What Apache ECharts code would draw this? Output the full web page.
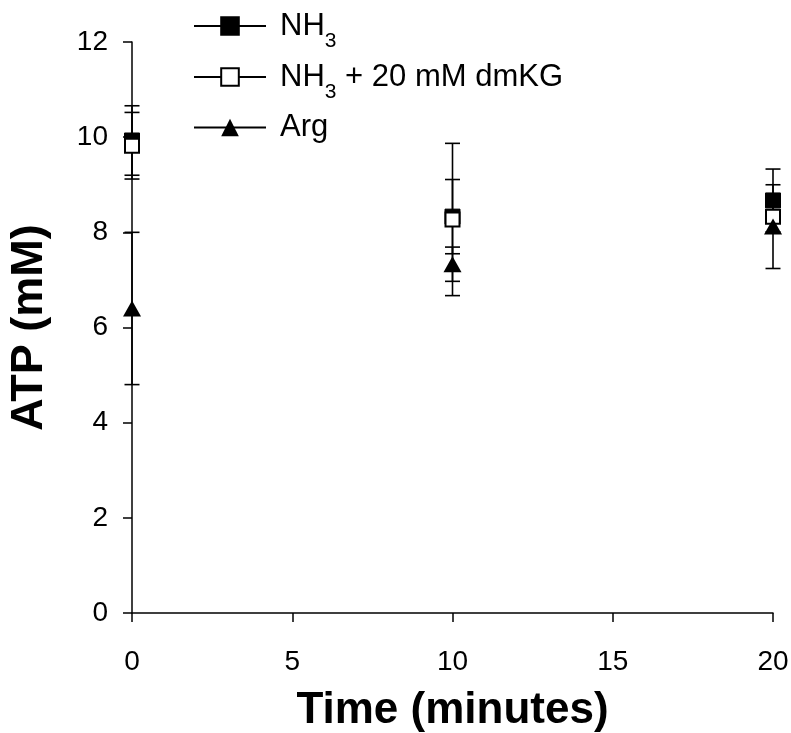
<!DOCTYPE html>
<html>
<head>
<meta charset="utf-8">
<script src="https://cdn.jsdelivr.net/npm/echarts@6/dist/echarts.min.js"></script>
<style>html,body{margin:0;padding:0;background:#fff}#c{width:791px;height:733px}</style>
</head>
<body>
<div id="c"></div>
<script>
// Data
var times = [0, 10, 20];
var nh3 = [9.93, 8.33, 8.67];
var nh3Err = [0.73, 0.78, 0.66];
var dmkg = [9.82, 8.27, 8.33];
var dmkgErr = [0.70, 1.60, 0.10];
var arg = [6.40, 7.33, 8.12];
var argErr = [1.60, 0.36, 0.88];
var xTicks = [0, 5, 10, 15, 20];
var yTicks = [0, 2, 4, 6, 8, 10, 12];

var FONT = 'Liberation Sans, Arial, sans-serif';
function pts(v) { return times.map(function (t, i) { return [t, v[i]]; }); }
function errData(v, e) { return times.map(function (t, i) { return [t, v[i], e[i]]; }); }

function errSeries(name, v, e) {
  return {
    type: 'custom', name: name, z: 1, silent: true,
    data: errData(v, e),
    renderItem: function (params, api) {
      var x = api.value(0), y = api.value(1), d = api.value(2);
      var hi = api.coord([x, y + d]);
      var lo = api.coord([x, y - d]);
      var w = 7.5;
      var st = { stroke: '#000', lineWidth: 1.6 };
      return {
        type: 'group',
        children: [
          { type: 'line', shape: { x1: hi[0], y1: hi[1], x2: lo[0], y2: lo[1] }, style: st },
          { type: 'line', shape: { x1: hi[0] - w, y1: hi[1], x2: hi[0] + w, y2: hi[1] }, style: st },
          { type: 'line', shape: { x1: lo[0] - w, y1: lo[1], x2: lo[0] + w, y2: lo[1] }, style: st }
        ]
      };
    }
  };
}

function mkLegend(name, top, rich) {
  return {
    data: [name], top: top, left: 193, padding: 0,
    itemWidth: 72, itemHeight: 22,
    selectedMode: false,
    lineStyle: { color: '#000', width: 2, opacity: 1 },
    formatter: function (n) {
      if (n === 'NH3') return '{a|NH}{s|3}';
      if (n === 'NH3 + 20 mM dmKG') return '{a|NH}{s|3}{a| + 20 mM dmKG}';
      return n;
    },
    textStyle: rich ? {
      fontFamily: FONT, color: '#000', fontSize: 31,
      padding: [0, 0, 0, 9],
      rich: {
        a: { fontFamily: FONT, fontSize: 31, lineHeight: 30, verticalAlign: 'top', color: '#000' },
        s: { fontFamily: FONT, fontSize: 21, lineHeight: 20, verticalAlign: 'top', padding: [20, 0, 0, 0], color: '#000' }
      }
    } : { fontFamily: FONT, color: '#000', fontSize: 31, padding: [0, 0, 6, 9] }
  };
}

var chart = echarts.init(document.getElementById('c'), null, { renderer: 'canvas' });
chart.setOption({
  animation: false,
  backgroundColor: '#fff',
  grid: { left: 132, right: 18, top: 42, bottom: 120, containLabel: false, outerBoundsMode: 'none' },
  legend: [
    mkLegend('NH3', 11, true),
    mkLegend('NH3 + 20 mM dmKG', 62, true),
    mkLegend('Arg', 112, false)
  ],
  xAxis: {
    type: 'value', min: 0, max: 20, interval: 5,
    name: 'Time (minutes)', nameLocation: 'middle', nameGap: 76,
    nameTextStyle: { fontFamily: FONT, fontSize: 44, fontWeight: 'bold', color: '#000' },
    axisLine: { lineStyle: { color: '#000', width: 1.5 } },
    axisTick: { show: true, inside: false, length: 9, lineStyle: { color: '#000', width: 1.5 } },
    axisLabel: { fontFamily: FONT, fontSize: 28, color: '#000', margin: 35,
      formatter: function (v) { return xTicks.indexOf(v) >= 0 ? String(v) : ''; } },
    splitLine: { show: false }
  },
  yAxis: {
    type: 'value', min: 0, max: 12, interval: 2,
    name: 'ATP (mM)', nameLocation: 'middle', nameGap: 80, nameRotate: 90,
    nameTextStyle: { fontFamily: FONT, fontSize: 45, fontWeight: 'bold', color: '#000' },
    axisLine: { show: true, lineStyle: { color: '#000', width: 1.5 } },
    axisTick: { show: true, inside: false, length: 9, lineStyle: { color: '#000', width: 1.5 } },
    axisLabel: { fontFamily: FONT, fontSize: 28, color: '#000', margin: 24,
      padding: [4, 0, 0, 0],
      formatter: function (v) { return yTicks.indexOf(v) >= 0 ? String(v) : ''; } },
    splitLine: { show: false }
  },
  series: [
    errSeries('errNH3', nh3, nh3Err),
    errSeries('errDmkg', dmkg, dmkgErr),
    errSeries('errArg', arg, argErr),
    {
      type: 'line', name: 'NH3', data: pts(nh3), z: 3,
      symbol: 'rect', symbolSize: 15, showSymbol: true,
      lineStyle: { opacity: 0, width: 0 },
      itemStyle: { color: '#000', borderColor: '#000', borderWidth: 1 }
    },
    {
      type: 'line', name: 'NH3 + 20 mM dmKG', data: pts(dmkg), z: 4,
      symbol: 'rect', symbolSize: 14, showSymbol: true,
      lineStyle: { opacity: 0, width: 0 },
      itemStyle: { color: '#fff', borderColor: '#000', borderWidth: 2 }
    },
    {
      type: 'line', name: 'Arg', data: pts(arg), z: 5,
      symbol: 'triangle', symbolSize: [18, 16], showSymbol: true,
      lineStyle: { opacity: 0, width: 0 },
      itemStyle: { color: '#000', borderColor: '#000', borderWidth: 0 }
    }
  ]
});
</script>
</body>
</html>
